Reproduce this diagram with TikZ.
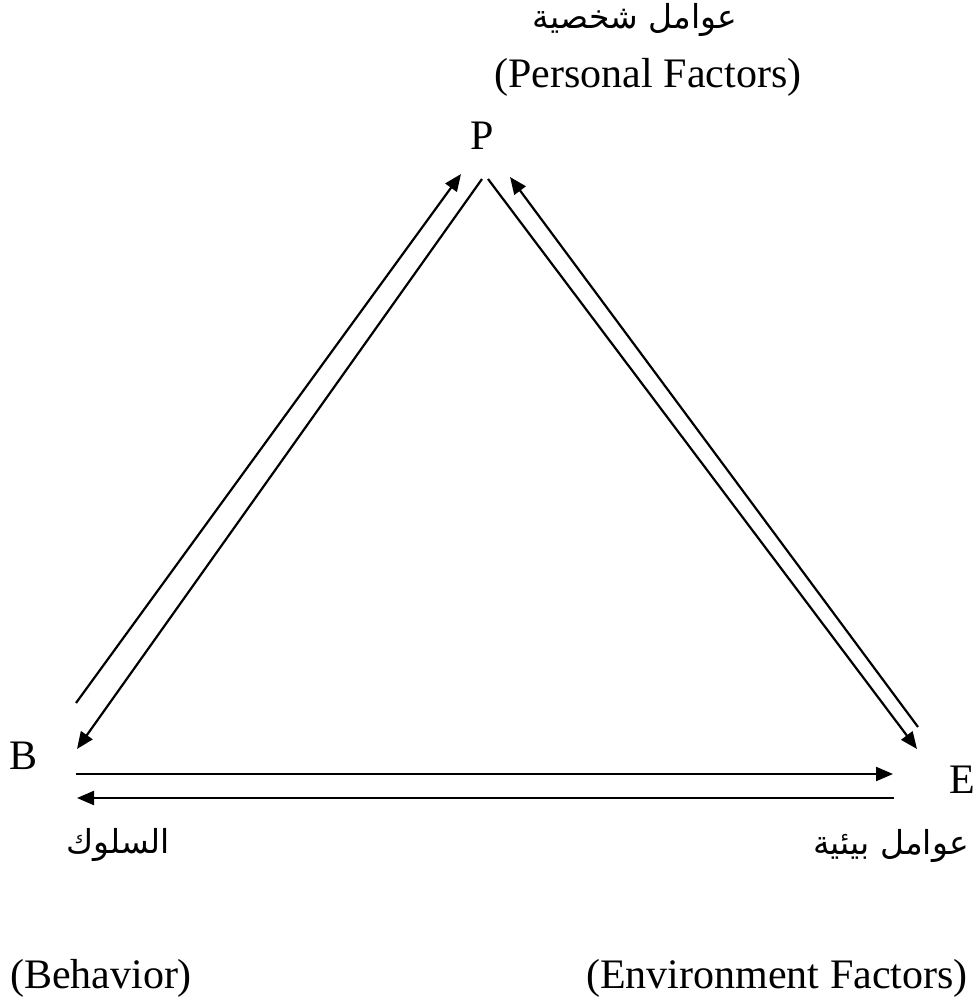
\documentclass[tikz,border=0pt]{standalone}
\usepackage{fontspec}
\setmainfont{Liberation Serif}
\newfontfamily\arabicfont[Script=Arabic]{DejaVu Sans}
\TeXXeTstate=1
\usetikzlibrary{arrows.meta}

\begin{document}
\begin{tikzpicture}[x=0.5pt,y=-0.5pt,
	lbl/.style={inner sep=0pt,anchor=base,font=\fontsize{21}{25}\selectfont},
	arlbl/.style={inner sep=0pt,anchor=base,font=\arabicfont\fontsize{16.5}{20}\selectfont},
	link/.style={line width=1.1pt,-{Triangle[length=8.5pt,width=7pt]}}]
	
	\useasboundingbox (0,0) rectangle (974,1000);
	
	% corners
	\node[lbl] (P) at (482,150) {P};
	\node[lbl] (B) at (24,769) {B};
	\node[lbl] (E) at (962,793) {E};
	
	% labels
	\node[arlbl] (Par) at (635,29) {\beginR عوامل شخصية\endR};
	\node[lbl] (Pen) at (648,88) {(Personal Factors)};
	\node[arlbl] (Bar) at (118,853) {\beginR السلوك\endR};
	\node[lbl] (Ben) at (101,988) {(Behavior)};
	\node[arlbl] (Ear) at (891,854) {\beginR عوامل بيئية\endR};
	\node[lbl] (Een) at (777,988) {(Environment Factors)};
	
	% line ends
	\coordinate (bp1) at (76,703);
	\coordinate (bp2) at (461,174);
	\coordinate (pb1) at (482,179);
	\coordinate (pb2) at (77,749);
	\coordinate (pe1) at (488,179);
	\coordinate (pe2) at (917,749);
	\coordinate (ep1) at (918,727);
	\coordinate (ep2) at (510,177);
	\coordinate (be1) at (76,774);
	\coordinate (be2) at (893,774);
	\coordinate (eb1) at (894,798);
	\coordinate (eb2) at (77,798);
	
	% B <-> P
	\draw[link] (bp1) -- (bp2);
	\draw[link] (pb1) -- (pb2);
	
	% P <-> E
	\draw[link] (pe1) -- (pe2);
	\draw[link] (ep1) -- (ep2);
	
	% B <-> E
	\draw[link] (be1) -- (be2);
	\draw[link] (eb1) -- (eb2);
	
\end{tikzpicture}
\end{document}
